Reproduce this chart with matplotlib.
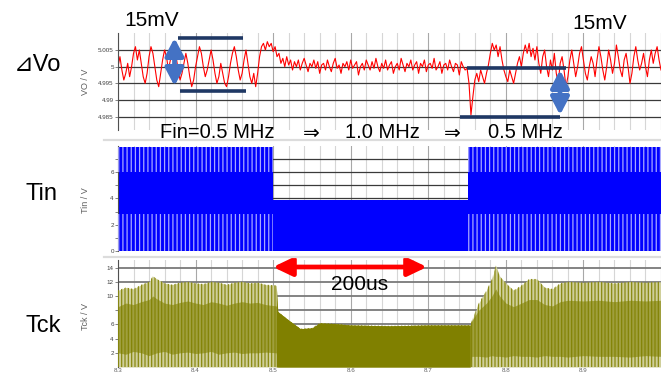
import matplotlib.pyplot as plt
import numpy as np
from matplotlib.patches import FancyArrowPatch
from matplotlib.lines import Line2D

plt.rcParams['font.family'] = ['Liberation Sans', 'DejaVu Sans']
plt.rcParams['hatch.linewidth'] = 0.9

W, H = 661, 373

# Vo ripple in mV around 5.000 V, sampled every 2.5 us from 8.3 ms
vo_t0, vo_dt = 8.3, 0.0025
vo_mv = [
    # 0.5 MHz
    0, 3, -1, -4, -2, 1, -3, 0, 4, 6, 2, 5, 1, -3, -5, -2, 3, 6, 4, 0,
    -4, -6, -2, 2, 5, 3, -1, 2, 6, 7, 3, -1, -4, -2, 1, 4, 1, -3, -6, -4,
    0, 3, 6, 4, 0, -3, -1, 2, 5, 2, -2, -5, -3, 1, -2, -5, -6, -3, 1, 4,
    6, 3, -1, -4, -2, 2, 5, 1, -3, -5, -2, -6,
    # switch to 1.0 MHz
    -2, 3, 6, 7, 5, 7.5, 6, 7, 4.5, 6, 3,
    4, 1, 2.5, 0, 3, 0.5, 2, -1,
    # 1.0 MHz
    1.5, 0, 2, -1, 1, 2.5, 0.5, -1.5, 1, 0, 2, -0.5, 1.5, -2, 0.5, 1, -1, 2, 0, -1.5,
    1, 2.5, -0.5, 0.5, -2, 1, 0, 1.5, -1, 2, -0.5, 0.5, 1.5, -2.5, 0, 1, -1, 2, 0.5, -1,
    1.5, -0.5, 2.5, 0, -1.5, 1, -0.5, 2, -1, 0.5, 1.5, -2, 0, 1, -1, 2.5, 0.5, -1.5, 1, 0,
    2, -1, 0.5, 1.5, -2, 1, 0, 2, -1.5, 0.5, 1, -0.5, 2.5, -1, 0, 1.5, -2, 0.5, 1, -1,
    2, 0, -1.5, 1, 0.5, -2.5, 1.5, 0, -1, -0.5,
    # switch back to 0.5 MHz
    -5, -14.5, -9, -4, -2, -4.5, -1, -3, -5, -2, 0.5,
    4, 7, 5, 6.5, 3, 6, 2, -1, -3, -4.5, -1, -3,
    -5, -2, 1, 3, 0, 4, 6.5, 4, 7, 3, 5.5, 2, 6, 1, -2, 3,
    5, 0, -3, 2, -1, 4, -2, -5, 1, 3, -1, -6, -3, 2,
    5, 1, -3, 0, 4, 6, 2, -2, -4, 0, 3, 1, -3, 2, 6, 3, -1, -4, 0, 5,
    2, -2, 1, 6.5, 3, -1, -3, 2, 4, 0, -5, -2, 3, 6, 2, -1, 1, 4, 0, -3,
    2, 5, 1, 4, 6, 2, -1,
]

# Tin: input frequency segments
tin_edges = [8.3, 8.5, 8.751, 9.0]
tin_mhz = [0.5, 1.0, 0.5]
tin_top = [7.9, 3.9, 7.9]
tin_labels = ['Fin=0.5 MHz', '1.0 MHz', '0.5 MHz']

# Tck envelope
tck_t = [8.300, 8.310, 8.320, 8.330, 8.340, 8.345, 8.350, 8.360, 8.370, 8.380,
         8.390, 8.400, 8.410, 8.420, 8.430, 8.440, 8.450, 8.460, 8.470, 8.480,
         8.490, 8.504,
         8.506, 8.520, 8.535, 8.550, 8.560, 8.580, 8.600, 8.650, 8.700, 8.754,
         8.756, 8.765, 8.775, 8.782, 8.787, 8.792, 8.800, 8.810, 8.820, 8.830,
         8.840, 8.850, 8.860, 8.870, 8.880, 8.900, 8.920, 8.940, 8.960, 8.980,
         9.000]
tck_top = [10.8, 11.2, 11.0, 11.6, 12.0, 12.8, 12.4, 11.8, 11.6, 11.9,
           12.0, 11.8, 11.7, 12.0, 11.9, 11.6, 11.9, 12.0, 11.8, 11.9,
           11.6, 11.5,
           7.8, 6.6, 5.4, 5.5, 6.2, 6.1, 5.9, 5.8, 5.9, 5.9,
           6.5, 9.0, 10.8, 12.4, 14.3, 12.8, 11.8, 10.8, 11.5, 12.4,
           12.4, 11.2, 11.0, 11.8, 12.0, 11.9, 12.0, 11.8, 12.0, 11.9,
           12.0]
tck_core_hi = [8.5, 9.0, 8.8, 9.2, 9.5, 10.0, 9.6, 9.0, 8.8, 9.1,
               9.3, 9.0, 8.8, 9.2, 9.0, 8.7, 9.0, 9.2, 9.0, 9.1,
               8.8, 8.6,
               7.8, 6.6, 5.4, 5.5, 6.2, 6.1, 5.9, 5.8, 5.9, 5.9,
               6.5, 8.0, 9.0, 10.0, 11.0, 10.0, 9.0, 8.5, 9.0, 9.5,
               9.5, 8.8, 8.6, 9.2, 9.4, 9.3, 9.4, 9.2, 9.4, 9.3,
               9.4]
tck_core_lo = [2.0, 1.8, 2.2, 2.0, 1.6, 1.8, 2.0, 2.2, 1.8, 2.0,
               2.1, 1.9, 2.0, 2.2, 1.8, 2.0, 2.1, 1.9, 2.0, 2.0,
               2.1, 2.0,
               0, 0, 0, 0, 0, 0, 0, 0, 0, 0,
               1.5, 1.5, 1.4, 1.6, 1.5, 1.5, 1.4, 1.6, 1.5, 1.5,
               1.4, 1.6, 1.5, 1.5, 1.4, 1.6, 1.5, 1.5, 1.4, 1.6,
               1.5]


def fx(x):
    return x / W


def fy(y):
    return 1 - y / H


fig = plt.figure(figsize=(6.61, 3.73), dpi=100)


def panel(top, bottom, ylim, yticks, ylabels, ylabel, label_y):
    ax = fig.add_axes([fx(118), fy(bottom), 1 - fx(118), (bottom - top) / H])
    ax.set_xlim(8.3, 9.0)
    ax.set_ylim(*ylim)
    ax.set_xticks(np.arange(8.3, 9.001, 0.1))
    ax.set_xticks(np.arange(8.3, 9.001, 0.02), minor=True)
    ax.set_yticks(yticks)
    ax.set_yticklabels(ylabels)
    ax.grid(axis='x', which='minor', color='#d6d6d6', lw=0.8)
    ax.grid(axis='x', which='major', color='#a8a8a8', lw=0.8)
    ax.set_axisbelow(True)
    for s in ['top', 'right', 'bottom']:
        ax.spines[s].set_visible(False)
    ax.spines['left'].set_color('#505050')
    ax.spines['left'].set_linewidth(0.8)
    ax.tick_params(axis='y', labelsize=4.5, labelcolor='#404040', length=2,
                   width=0.5, pad=1, color='#505050')
    ax.tick_params(axis='x', which='both', length=0, labelbottom=False)
    fig.text(fx(85), fy(label_y), ylabel, rotation=90, fontsize=6.5,
             color='#606060', ha='center', va='center')
    return ax


# ---- Vo ----
ax1 = panel(33, 130, (4.981, 5.0101), [4.985, 4.99, 4.995, 5.0, 5.005],
            ['4.985', '4.99', '4.995', '5', '5.005'], 'VO / V', 82)
ax1.grid(axis='y', color='#3a3a3a', lw=0.9)
vo_t = vo_t0 + vo_dt * np.arange(len(vo_mv))
ax1.plot(vo_t, 5.0 + np.array(vo_mv) / 1000.0, color='#ff0000', lw=0.8)

# ---- Tin ----
ax2 = panel(146, 251, (0, 7.98), range(0, 8),
            ['0', '', '2', '', '4', '', '6', ''], 'Tin / V', 200)
ax2.grid(axis='y', color='#3a3a3a', lw=0.9)
for t0, t1, f, top in zip(tin_edges[:-1], tin_edges[1:], tin_mhz, tin_top):
    ax2.fill_between([t0, t1], 0, top, color='#0000ff', lw=0, zorder=2)
    if f == 0.5:
        ax2.fill_between([t0, t1], 0, 2.8, facecolor='none',
                         edgecolor='#a8a8ff', hatch='||||', lw=0, zorder=3)
        ax2.fill_between([t0, t1], 6.0, top, facecolor='none',
                         edgecolor='#a8a8ff', hatch='||||', lw=0, zorder=3)

# ---- Tck ----
ax3 = panel(260, 367, (0, 15.07), range(2, 15, 2),
            ['2', '4', '6', '', '10', '12', '14'], 'Tck / V', 316)
ax3.grid(axis='y', color='#7a7a7a', lw=1.3)
ax3.tick_params(axis='x', which='major', labelbottom=True, labelsize=4.5,
                labelcolor='#606060', pad=1)
ax3.set_xticklabels(['8.3', '8.4', '8.5', '8.6', '8.7', '8.8', '8.9', ''])
tt = np.array(tck_t)
solid = (tt > tin_edges[1]) & (tt < tin_edges[2] + 0.004)
ax3.fill_between(tt, 0, tck_top, color='#cfcf9a', lw=0, zorder=2)
ax3.fill_between(tt, 0, tck_top, facecolor='none', edgecolor='#8a8a12',
                 hatch='|||||', lw=0, zorder=3)
ax3.fill_between(tt, tck_core_lo, tck_core_hi, color='#808000', alpha=0.6,
                 lw=0, zorder=4)
ax3.fill_between(tt, 0, tck_top, where=solid, color='#808000', lw=0,
                 zorder=5)

# ---- separators ----
for yy in [140, 257]:
    fig.add_artist(Line2D([fx(104), 1], [fy(yy), fy(yy)], color='#dcdcdc',
                          lw=1.6))

# ---- annotations ----
navy = '#1f3864'
for x0, x1, yy in [(178, 243, 37.5), (180, 246, 90.5), (467, 566, 68),
                   (460, 560, 117)]:
    fig.add_artist(Line2D([fx(x0), fx(x1)], [fy(yy), fy(yy)], color=navy,
                          lw=2.6, solid_capstyle='butt'))


def arrow(x0, y0, x1, y1, color, hl, hw, lw):
    fig.add_artist(FancyArrowPatch(
        (fx(x0), fy(y0)), (fx(x1), fy(y1)), transform=fig.transFigure,
        arrowstyle='<|-|>,head_length=%g,head_width=%g' % (hl, hw),
        mutation_scale=10, lw=lw, color=color, shrinkA=0, shrinkB=0))


arrow(174.5, 38, 174.5, 86, '#4472c4', 1.05, 0.55, 3.4)
arrow(560, 70, 560, 115, '#4472c4', 1.05, 0.55, 3.4)
arrow(273, 267, 427, 267, '#ff0000', 1.15, 0.55, 3.4)

fig.text(fx(124), fy(20), '15mV', fontsize=15, ha='left', va='center')
fig.text(fx(572), fy(23.5), '15mV', fontsize=15, ha='left', va='center')
fig.text(fx(14), fy(65), '⊿Vo', fontsize=17, ha='left', va='center')
fig.text(fx(25), fy(194), 'Tin', fontsize=17, ha='left', va='center')
fig.text(fx(25), fy(326), 'Tck', fontsize=17, ha='left', va='center')
fig.text(fx(331), fy(284), '200us', fontsize=15, ha='left', va='center')

label_x = [217, 382, 525]
for x, s in zip(label_x, tin_labels):
    fig.text(fx(x), fy(133), s, fontsize=14.5, ha='center', va='center')
for x in [311, 452]:
    fig.text(fx(x), fy(133), '⇒', fontsize=14.5, ha='center', va='center')

fig.savefig('out.png', dpi=100)
